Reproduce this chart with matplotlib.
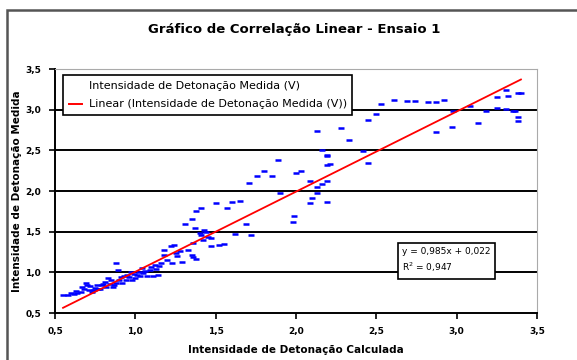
import matplotlib.pyplot as plt
from matplotlib.lines import Line2D
from matplotlib.patches import Rectangle
import numpy as np

# dados (intensidade calculada x medida)
x_calc = [0.55, 0.58, 0.60, 0.62, 0.63, 0.64, 0.66, 0.67, 0.68, 0.69, 0.70, 0.71,
          0.72, 0.73, 0.74, 0.75, 0.76, 0.77, 0.78, 0.79, 0.80, 0.81, 0.82, 0.83,
          0.84, 0.85, 0.86, 0.87, 0.88, 0.88, 0.89, 0.90, 0.91, 0.92, 0.93, 0.94,
          0.95, 0.96, 0.97, 0.98, 0.99, 1.00, 1.01, 1.02, 1.03, 1.04, 1.05, 1.06,
          1.07, 1.09, 1.10, 1.11, 1.12, 1.13, 1.14, 1.15, 1.16, 1.18, 1.18, 1.20,
          1.22, 1.23, 1.24, 1.25, 1.26, 1.28, 1.29, 1.31, 1.33, 1.35, 1.35, 1.36,
          1.36, 1.37, 1.38, 1.38, 1.40, 1.41, 1.41, 1.42, 1.43, 1.44, 1.45, 1.47,
          1.47, 1.50, 1.52, 1.55, 1.57, 1.60, 1.62, 1.65, 1.69, 1.71, 1.72, 1.76,
          1.80, 1.85, 1.89, 1.90, 1.98, 1.99, 2.00, 2.03, 2.09, 2.09, 2.10, 2.13,
          2.13, 2.13, 2.16, 2.16, 2.19, 2.19, 2.19, 2.19, 2.19, 2.21, 2.28, 2.33,
          2.42, 2.45, 2.45, 2.50, 2.53, 2.61, 2.69, 2.74, 2.82, 2.87, 2.87, 2.92,
          2.97, 2.98, 3.08, 3.13, 3.18, 3.25, 3.25, 3.31, 3.31, 3.32, 3.35, 3.36,
          3.38, 3.38, 3.38, 3.40]
y_med = [0.72, 0.72, 0.74, 0.73, 0.77, 0.75, 0.76, 0.82, 0.80, 0.87, 0.84, 0.78,
         0.83, 0.76, 0.78, 0.81, 0.85, 0.79, 0.80, 0.84, 0.86, 0.88, 0.82, 0.93,
         0.86, 0.90, 0.82, 0.84, 0.87, 1.11, 1.03, 0.91, 0.94, 0.87, 0.95, 0.90,
         0.97, 0.94, 1.01, 0.91, 0.98, 0.93, 0.97, 1.01, 0.96, 1.05, 0.99, 1.02,
         0.95, 1.03, 1.06, 0.95, 1.09, 1.04, 0.97, 1.08, 1.11, 1.21, 1.27, 1.15,
         1.32, 1.11, 1.34, 1.24, 1.20, 1.26, 1.13, 1.59, 1.28, 1.21, 1.66, 1.19,
         1.36, 1.55, 1.17, 1.75, 1.48, 1.46, 1.79, 1.40, 1.52, 1.49, 1.44, 1.42,
         1.32, 1.85, 1.33, 1.35, 1.79, 1.86, 1.47, 1.88, 1.60, 2.10, 1.46, 2.19,
         2.25, 2.18, 2.38, 1.97, 1.62, 1.69, 2.22, 2.25, 2.12, 1.85, 1.91, 1.97,
         2.05, 2.74, 2.08, 2.50, 2.12, 1.87, 2.43, 2.32, 2.44, 2.33, 2.77, 2.63,
         2.49, 2.35, 2.87, 2.95, 3.07, 3.12, 3.11, 3.11, 3.09, 3.09, 2.73, 3.12,
         2.79, 2.98, 3.05, 2.84, 2.98, 3.02, 3.16, 3.24, 3.01, 3.17, 2.98, 2.98,
         3.21, 2.91, 2.86, 3.21]

# linha de tendência (Excel)
slope = 0.985
intercept = 0.022
r2 = 0.947

ticks = [0.5, 1.0, 1.5, 2.0, 2.5, 3.0, 3.5]
tick_labels = ['0,5', '1,0', '1,5', '2,0', '2,5', '3,0', '3,5']

plt.rcParams['font.family'] = ['DejaVu Sans']

fig = plt.figure(figsize=(5.77, 3.6), dpi=100)
W, H = 577, 360

# moldura da área do gráfico
fig.patches.append(Rectangle((7 / W, -0.05), 1.2, 1 - 10 / H + 0.05,
                             transform=fig.transFigure, fill=False,
                             edgecolor='#555555', linewidth=1.8))

ax = fig.add_axes([55 / W, 1 - 313 / H, (537 - 55) / W, (313 - 69) / H])

for v in ticks[1:-1]:
    ax.axhline(v, color='black', linewidth=1.4, zorder=1)

ax.plot(x_calc, y_med, linestyle='none', marker='_', color='#0000ff',
        markersize=4, markeredgewidth=1.8, zorder=2)

xl = np.array([min(x_calc), max(x_calc)])
ax.plot(xl, slope * xl + intercept, color='#ff0000', linewidth=1.3, zorder=3)

ax.set_xlim(0.5, 3.5)
ax.set_ylim(0.5, 3.5)
ax.set_xticks(ticks)
ax.set_xticklabels(tick_labels, fontsize=6.5, fontweight='bold')
ax.set_yticks(ticks)
ax.set_yticklabels(tick_labels, fontsize=6.5, fontweight='bold')
ax.tick_params(direction='out', length=4, width=1.2, pad=6)

ax.spines['top'].set_color('#aaaaaa')
ax.spines['right'].set_color('#aaaaaa')
ax.spines['left'].set_linewidth(1.4)
ax.spines['bottom'].set_linewidth(1.4)

ax.set_xlabel('Intensidade de Detonação Calculada', fontsize=7.5, fontweight='bold')
ax.set_ylabel('Intensidade de Detonação Medida', fontsize=7.5, fontweight='bold')
ax.xaxis.set_label_coords(0.5, (313 - 345) / 244)
ax.yaxis.set_label_coords((22 - 55) / 482, 0.5)

fig.text(294 / W, 1 - 30 / H, 'Gráfico de Correlação Linear - Ensaio 1',
         ha='center', va='center', fontsize=9.5, fontweight='bold')

# legenda
handles = [Line2D([], [], color='none'),
           Line2D([], [], color='#ff0000', linewidth=1.4)]
labels = ['Intensidade de Detonação Medida (V)',
          'Linear (Intensidade de Detonação Medida (V))']
leg = ax.legend(handles, labels, loc='upper left', bbox_to_anchor=(8 / 482, 1 - 6 / 244),
                borderaxespad=0, fontsize=8, frameon=True, fancybox=False, framealpha=1,
                edgecolor='black', handlelength=1.2, handletextpad=0.6,
                borderpad=0.5, labelspacing=0.8)
leg.get_frame().set_linewidth(1.2)
leg.set_zorder(5)

# equação da reta
eq = 'y = %sx + %s\nR$^2$ = %s' % (str(slope).replace('.', ','),
                                   str(intercept).replace('.', ','),
                                   str(r2).replace('.', ','))
ax.text(0.72, 0.215, eq, transform=ax.transAxes, fontsize=6.5, ha='left', va='center',
        linespacing=1.5, zorder=6,
        bbox=dict(boxstyle='square,pad=0.5', facecolor='white', edgecolor='black', linewidth=1.2))

fig.savefig('out.png', dpi=100)
